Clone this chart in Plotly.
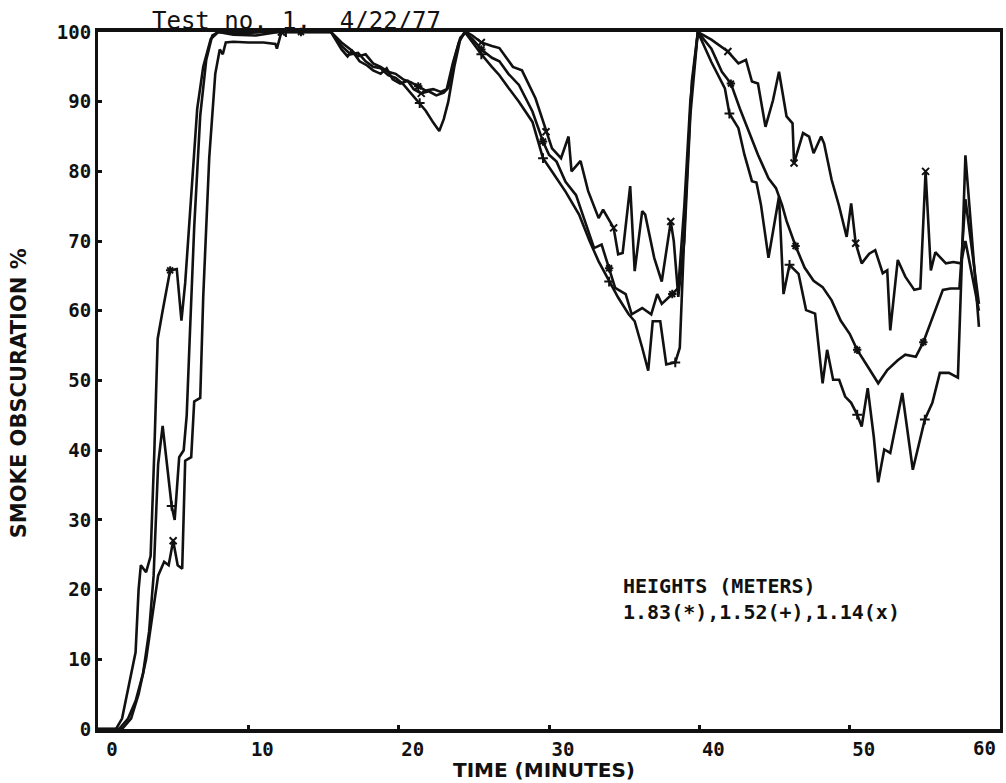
import plotly.graph_objects as go

# Smoke obscuration (%) versus time (minutes) at three detector heights.
# Each series keeps its own sampling times.

# 1.83 m detector (*)
t_183 = [0, 1.2, 1.6, 1.9, 2.2, 2.5, 2.7, 2.85, 3.2, 3.5, 3.75, 3.97, 4.3, 4.8, 5.24, 5.55, 5.8, 6.0, 6.3, 6.6,
         7.0, 7.5, 8.0, 9.0, 10.5, 12.0, 13.5, 15.5,
         16.2, 16.8, 17.3, 17.8, 18.3, 18.8, 19.3, 19.8, 20.3, 20.8, 21.3, 21.8, 22.3, 22.8, 23.2, 23.6, 24.0, 24.4,
         24.9, 25.5, 26.2, 26.7, 27.3, 28.0, 28.9, 29.6, 30.0, 30.5, 31.1, 31.8, 32.4, 33.0, 33.5, 34.0, 34.4, 35.1,
         35.5, 36.2, 36.8, 37.2, 37.5, 38.2, 38.6, 39.0, 39.4, 39.9,
         40.8, 41.5, 42.1, 42.7, 43.3, 43.9, 44.6, 45.1, 45.5, 45.8, 46.4, 47.0, 47.6, 48.2, 48.8, 49.4, 50.0, 50.5,
         51.2, 51.9, 52.5, 53.2, 53.7, 54.4, 54.9, 55.6, 56.2, 56.7, 57.3, 57.7, 58.6]
v_183 = [0, 0, 1.5, 4.6, 8, 11, 20, 23.5, 22.5, 24.8, 40, 56, 60, 65.8, 66, 58.6, 64, 70, 80, 89,
         95, 99, 100, 99.6, 99.5, 100, 100, 100,
         98.5, 97.5, 96.5, 96.8, 95.5, 95, 94.3, 94, 93.2, 92.8, 92.2, 91.6, 91.8, 91.4, 91.8, 95.5, 98.5, 100,
         99, 97.5, 96.3, 95.8, 94, 92.4, 88.6, 84.3, 82.4, 81.4, 78.5, 76.6, 72.8, 69, 69.5, 66.1, 63.3, 62.4,
         59.5, 60.4, 59.5, 62.4, 61, 62.4, 63.3, 75, 90, 100,
         97.6, 94.3, 92.6, 89, 85.7, 82.4, 79, 77.6, 75.2, 72.9, 69.3, 66.2, 64.3, 63.4, 61.5, 58.6, 56.7, 54.4,
         52, 49.6, 51.5, 52.9, 53.7, 53.4, 55.5, 59.6, 63, 63.2, 63.2, 76, 61]

# 1.52 m detector (+)
t_152 = [0, 1.4, 2.0, 2.5, 3.0, 3.4, 3.7, 4.0, 4.3, 4.6, 4.9, 5.1, 5.4, 5.7, 5.9, 6.1, 6.4, 6.8, 7.2, 7.6,
         8.0, 9.5, 11.0, 12.5, 14.0, 15.5,
         16.2, 16.8, 17.3, 17.8, 18.3, 18.8, 19.3, 19.8, 20.3, 20.9, 21.4, 21.8, 22.3, 22.7, 23.0, 23.3, 23.7, 24.1, 24.4,
         24.9, 25.5, 26.2, 26.7, 27.3, 28.0, 28.9, 29.6, 30.2, 31.1, 32.0, 32.7, 33.3, 34.0, 34.6, 35.3, 35.7, 36.2,
         36.6, 36.9, 37.4, 37.8, 38.4, 38.7, 39.05, 39.5, 39.9,
         40.8, 41.7, 42.0, 42.6, 43.0, 43.5, 43.8, 44.1, 44.6, 45.0, 45.3, 45.6, 46.0, 46.6, 47.1, 47.7, 48.2, 48.5,
         48.9, 49.3, 49.7, 50.1, 50.5, 50.8, 51.2, 51.6, 51.9, 52.3, 52.7, 53.5, 54.2, 55.0, 55.5, 56.0, 56.6, 57.2,
         57.7, 58.6]
v_152 = [0, 0, 1.5, 4, 8, 14, 22, 38, 43.5, 38, 32, 30, 39, 40, 45, 56, 72, 88, 96, 99.5,
         100, 99.8, 100, 100, 100, 100,
         98, 96.8, 97, 95.8, 95, 94.8, 93.8, 93.4, 92.5, 91, 89.8, 88.7, 87, 85.8, 87.5, 90, 95, 99, 100,
         98.5, 96.8, 95, 93.8, 92, 90, 87.1, 81.9, 80, 77.1, 73.8, 70, 67.1, 64.2, 61.9, 59.5, 58.5, 54.7,
         51.4, 58.5, 58.5, 52.3, 52.6, 54.7, 73.8, 92.9, 100,
         95.7, 91.9, 88.3, 86.2, 82.4, 78.6, 78.4, 75.2, 67.6, 72.9, 76.4, 62.4, 66.6, 65.3, 60.1, 59.6, 49.6, 54.4,
         50.1, 50.1, 47.7, 46.8, 45.1, 43.4, 48.9, 42, 35.4, 40.1, 39.6, 48.2, 37.2, 44.4, 46.8, 51.1, 51.1, 50.4,
         82.3, 57.7]

# 1.14 m detector (x)
t_114 = [0, 1.6, 2.2, 2.7, 3.2, 3.6, 4.0, 4.4, 4.7, 5.0, 5.3, 5.6, 5.8, 6.2, 6.4, 6.8, 7.0, 7.4, 7.8, 8.1,
         8.3, 8.5, 9.0, 10.0, 11.0, 11.8, 11.9, 12.2, 14.0, 15.5,
         16.2, 16.6, 16.9, 17.4, 17.9, 18.3, 18.8, 19.2, 19.6, 20.1, 20.6, 21.0, 21.5, 22.0, 22.5, 23.0, 23.3, 23.7,
         24.1, 24.5,
         24.9, 25.5, 26.2, 26.7, 27.6, 28.2, 29.1, 29.8, 30.2, 30.8, 31.3, 31.5, 32.1, 32.6, 33.3, 33.6, 34.3, 34.6,
         34.9, 35.4, 35.7, 36.2, 36.4, 37.0, 37.5, 38.1, 38.3, 38.6, 39.0, 39.4, 39.9,
         40.8, 41.9, 42.6, 43.1, 43.5, 43.9, 44.4, 44.9, 45.3, 45.8, 46.2, 46.3, 46.9, 47.3, 47.6, 48.1, 48.3, 48.8,
         49.3, 49.8, 50.1, 50.4, 50.8, 51.3, 51.7, 52.2, 52.5, 52.7, 53.2, 53.7, 54.3, 54.7, 55.05, 55.4, 55.7, 56.4,
         56.9, 57.4, 57.7, 58.6]
v_114 = [0, 0, 1.5, 5, 10, 16, 22, 24, 23.5, 27, 23.5, 23, 38.5, 39, 47, 47.5, 62, 82, 94, 97.5,
         96.8, 98.5, 98.6, 98.5, 98.5, 98.3, 97.6, 100, 100, 100,
         97.5, 96.5, 97.3, 95.8, 95.2, 94.5, 94, 94.8, 93.2, 92.6, 93, 91.8, 91.2, 91.5, 90.9, 91.3, 92, 96,
         99.2, 100,
         99.5, 98.5, 98, 97.7, 95, 94.5, 90.5, 85.7, 83.3, 81.9, 85, 80, 81.5, 77.2, 73.3, 74.5, 71.9, 68.1,
         68.3, 77.9, 65.7, 74.3, 73.8, 67.6, 64.2, 72.8, 70, 62, 70, 88, 100,
         98.9, 97.2, 95.5, 96, 92.9, 92.6, 86.4, 90.2, 94.3, 87.9, 86.9, 81.2, 85.5, 85, 82.6, 85, 84, 78.8,
         75, 70.6, 75.4, 69.7, 66.8, 68.2, 68.7, 65.4, 65.8, 57.2, 67.3, 64.9, 63, 63.2, 80, 65.8, 68.4, 66.8,
         67, 66.8, 70, 60]

# Times at which the plotter stamped its series symbol
MARK_TIMES = [5.0, 13.0, 21.4, 25.6, 29.8, 34.0, 38.1, 42.1, 46.3, 50.5, 55.0]

X_TICKS = [0, 10, 20, 30, 40, 50, 60]
Y_TICKS = [0, 10, 20, 30, 40, 50, 60, 70, 80, 90, 100]

SERIES = [
    ("1.83", t_183, v_183, "asterisk-open"),
    ("1.52", t_152, v_152, "cross-thin-open"),
    ("1.14", t_114, v_114, "x-thin-open"),
]

INK = "#111111"
MONO = "DejaVu Sans Mono"
TICK_FONT = dict(family=MONO, size=19, color=INK, weight="bold")


def stamped(ts, vs):
    """Pick the recorded samples closest to each stamp time."""
    xs, ys = [], []
    for mt in MARK_TIMES:
        i = min(range(len(ts)), key=lambda k: abs(ts[k] - mt))
        xs.append(ts[i])
        ys.append(vs[i])
    return xs, ys


fig = go.Figure()
for name, ts, vs, sym in SERIES:
    fig.add_trace(go.Scatter(
        x=ts, y=vs, mode="lines", name=name,
        line=dict(color=INK, width=2.6),
        showlegend=False,
    ))
    mx, my = stamped(ts, vs)
    fig.add_trace(go.Scatter(
        x=mx, y=my, mode="markers", name=name,
        marker=dict(symbol=sym, size=7, color=INK, line=dict(color=INK, width=2)),
        cliponaxis=False, showlegend=False,
    ))

axis_common = dict(
    showgrid=False, zeroline=False,
    showline=True, linecolor=INK, mirror=True,
    ticks="inside", ticklen=4, tickwidth=3, tickcolor=INK,
    tickfont=TICK_FONT,
)

# The plotter writes each time label just right of its tick; the last one
# is pulled back inside the frame.
x_text = [str(v) for v in X_TICKS[:-1]] + [""]
fig.update_xaxes(range=[0, 60], tickvals=X_TICKS, ticktext=x_text,
                 linewidth=3.5, ticklabelshift=14, **axis_common)
fig.update_yaxes(range=[0, 100], tickvals=Y_TICKS, ticktext=[str(v) for v in Y_TICKS],
                 linewidth=3, **axis_common)

fig.update_layout(
    width=1006, height=783,
    margin=dict(l=98, r=3, t=32, b=54),
    paper_bgcolor="white", plot_bgcolor="white",
    title=dict(text="Test no. 1,  4/22/77", x=152 / 1006, xanchor="left",
               y=1 - 21 / 783, yanchor="middle",
               font=dict(family=MONO, size=24, color=INK)),
    annotations=[
        dict(text=str(X_TICKS[-1]), showarrow=False,
             xref="x", yref="paper", x=X_TICKS[-1], y=(729 - 748) / 697,
             xanchor="right", yanchor="middle", xshift=-2, font=TICK_FONT),
        dict(text="SMOKE OBSCURATION %", textangle=-90, showarrow=False,
             xref="paper", yref="paper", x=(19 - 98) / 905, y=(729 - 393) / 697,
             xanchor="center", yanchor="middle",
             font=dict(family="DejaVu Sans", size=21, color=INK, weight="bold")),
        dict(text="TIME (MINUTES)", showarrow=False,
             xref="paper", yref="paper", x=(545 - 98) / 905, y=(729 - 770) / 697,
             xanchor="center", yanchor="middle",
             font=dict(family="DejaVu Sans", size=20, color=INK, weight="bold")),
        dict(text="HEIGHTS (METERS)<br>1.83(*),1.52(+),1.14(x)", showarrow=False, align="left",
             xref="paper", yref="paper", x=(623 - 98) / 905, y=(729 - 599) / 697,
             xanchor="left", yanchor="middle",
             font=dict(family=MONO, size=20, color=INK, weight="bold")),
    ],
)

fig.write_html("out.html")
